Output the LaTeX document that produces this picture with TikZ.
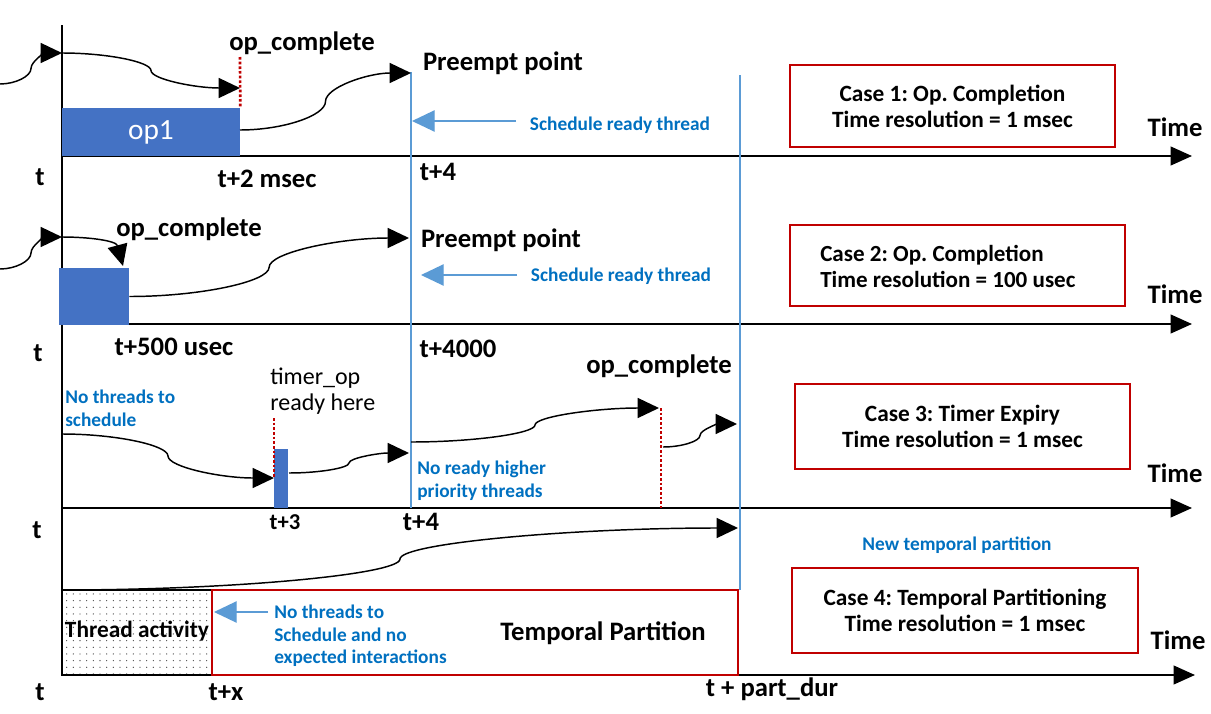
\documentclass[tikz,border=0pt]{standalone}
\usepackage{fontspec}
\setmainfont{Carlito}
\frenchspacing
\usetikzlibrary{arrows.meta,calc,patterns.meta}
\definecolor{opblue}{HTML}{4472C4}
\definecolor{lineblue}{HTML}{5B9BD5}
\definecolor{noteblue}{HTML}{0070C0}
\definecolor{darkred}{HTML}{C00000}
\tikzset{
  axis/.style={line width=1.5pt,-{Triangle[length=16pt,width=14pt]}},
  flow/.style={line width=1.1pt,-{Triangle[length=16pt,width=15pt]}},
  wiggle/.style={to path={.. controls ($(\tikztostart)!0.25!(\tikztostart -| \tikztotarget)$) and ($(\tikztostart)!0.5!(\tikztostart -| \tikztotarget) + 0.25*(\tikztostart |- \tikztotarget) - 0.25*(\tikztostart)$) .. ($(\tikztostart)!0.5!(\tikztotarget)$) .. controls ($(\tikztostart)!0.5!(\tikztostart -| \tikztotarget) + 0.75*(\tikztostart |- \tikztotarget) - 0.75*(\tikztostart)$) and ($(\tikztotarget)!0.25!(\tikztotarget -| \tikztostart)$) .. (\tikztotarget) \tikztonodes}},
  preempt/.style={lineblue,line width=1.1pt},
  schedarrow/.style={lineblue,line width=1pt,-{Triangle[length=17pt,width=16pt]}},
  opline/.style={darkred,line width=2pt,dash pattern=on 2pt off 1.5pt},
  opbox/.style={fill=opblue,inner sep=0pt},
  lbl/.style={font=\fontsize{20}{24}\selectfont\bfseries},
  note/.style={font=\fontsize{14.5}{17}\selectfont\bfseries,text=noteblue,align=left,inner sep=0pt},
  casebox/.style={draw=darkred,line width=1.8pt,font=\fontsize{17.5}{19.5}\selectfont\bfseries,align=center}
}
\begin{document}
\begin{tikzpicture}[x=0.75pt,y=-0.75pt]
\useasboundingbox (0,0) rectangle (1211,714);
% time axes
\coordinate (top) at (62,25);
\coordinate (bottom) at (62,676);
\coordinate (o1) at (62,156);
\coordinate (e1) at (1192,156);
\coordinate (o2) at (62,324);
\coordinate (e2) at (1192,324);
\coordinate (o3) at (62,508);
\coordinate (e3) at (1192,508);
\coordinate (o4) at (62,675);
\coordinate (e4) at (1195,675);
\draw[line width=1.5pt] (top) -- (bottom);
\draw[axis] (o1) -- (e1);
\draw[axis] (o2) -- (e2);
\draw[axis] (o3) -- (e3);
\draw[axis] (o4) -- (e4);
\node[lbl] (time1) at (1175,127) {Time};
\node[lbl] (time2) at (1175,294) {Time};
\node[lbl] (time3) at (1175,473) {Time};
\node[lbl] (time4) at (1178,640) {Time};
% preempt lines
\coordinate (pre1top) at (411,72);
\coordinate (pre1bot) at (411,508);
\coordinate (pre2top) at (740,75);
\coordinate (pre2bot) at (740,590);
\draw[preempt] (pre1top) -- (pre1bot);
\draw[preempt] (pre2top) -- (pre2bot);

% case 1
\node[opbox,minimum width=133.5pt,minimum height=36pt,text=white,font=\fontsize{22}{26}\selectfont] (op1) at (151,132) {op1};
\coordinate (c1in) at (0,84);
\coordinate (c1t) at (62,53);
\coordinate (c1done) at (240,88);
\coordinate (c1mark) at (240,57);
\coordinate (c1resume) at (240,130);
\coordinate (c1pre) at (411,73);
\draw[flow] (c1in) to[wiggle] (c1t);
\draw[flow] (c1t) to[wiggle] (c1done);
\draw[flow] (c1resume) to[wiggle] (c1pre);
\draw[opline] (c1mark) -- (op1.north east);
\node[lbl] (done1) at (302,43) {op\_complete};
\node[lbl] (pp1) at (503,63) {Preempt point};
\coordinate (s1tail) at (516,121);
\coordinate (s1head) at (412,121);
\draw[schedarrow] (s1tail) -- (s1head);
\node[note] (sched1) at (620,125) {Schedule ready thread};
\node[lbl] (t1) at (40,177) {t};
\node[lbl] (t1b) at (267,179) {t+2 msec};
\node[lbl] (t1c) at (438,172) {t+4};
\node[casebox,minimum width=243.75pt,minimum height=61.5pt] (case1) at (952.5,106) {Case 1: Op. Completion\\Time resolution = 1 msec};

% case 2
\node[opbox,minimum width=52.5pt,minimum height=42.75pt] (op2) at (94,296.5) {};
\coordinate (c2in) at (0,269);
\coordinate (c2t) at (62,237);
\coordinate (c2done) at (123,266);
\coordinate (c2pre) at (409,238);
\draw[flow] (c2in) to[wiggle] (c2t);
\draw[flow] (c2t) to[out=0,in=105] (c2done);
\draw[flow] (op2.east) to[wiggle] (c2pre);
\node[lbl] (done2) at (189,229) {op\_complete};
\node[lbl] (pp2) at (501,240) {Preempt point};
\coordinate (s2tail) at (517,275);
\coordinate (s2head) at (421,275);
\draw[schedarrow] (s2tail) -- (s2head);
\node[note] (sched2) at (621,276) {Schedule ready thread};
\node[lbl] (t2) at (38,353) {t};
\node[lbl] (t2b) at (174,347) {t+500 usec};
\node[lbl] (t2c) at (458,349) {t+4000};
\node[casebox,minimum width=251.25pt,minimum height=60.75pt] (case2) at (957.5,265.5) {};
\node[anchor=west,inner sep=0pt,align=left,font=\fontsize{17.3}{19.5}\selectfont\bfseries] (case2txt) at (820,266.5) {Case 2: Op. Completion\\Time resolution = 100 usec};

% case 3
\node[opbox,minimum width=10.5pt,minimum height=44.25pt] (op3) at (281,478.5) {};
\coordinate (c3t) at (62,434);
\coordinate (c3timer) at (274,478);
\coordinate (c3mark) at (274,418);
\coordinate (c3resume) at (289,473);
\coordinate (c3pre) at (409,453);
\coordinate (c3run) at (411,442);
\coordinate (c3done) at (659,408);
\coordinate (c3mark2) at (661,408);
\coordinate (c3mark2b) at (661,508);
\coordinate (c3after) at (663,447);
\coordinate (c3end) at (737,424);
\draw[opline] (c3mark) -- (c3timer);
\draw[opline] (c3mark2) -- (c3mark2b);
\draw[flow] (c3t) to[wiggle] (c3timer);
\draw[flow] (c3resume) to[wiggle] (c3pre);
\draw[flow] (c3run) to[wiggle] (c3done);
\draw[flow] (c3after) to[wiggle] (c3end);
\node[note,anchor=west] (idle3) at (65,408) {No threads to\\schedule};
\node[anchor=west,inner sep=0pt,align=left,font=\fontsize{18}{19.5}\selectfont] (timer3) at (270,391) {timer\_op\\ready here};
\node[lbl] (done3) at (659,366) {op\_complete};
\node[note,anchor=west] (nohigh3) at (417,480.5) {No ready higher\\priority threads};
\node[lbl] (t3) at (37,530) {t};
\node[lbl,font=\fontsize{17}{20}\selectfont\bfseries] (t3b) at (285,522) {t+3};
\node[lbl] (t3c) at (421,522) {t+4};
\node[casebox,minimum width=251.25pt,minimum height=63.75pt] (case3) at (962.5,426.5) {Case 3: Timer Expiry\\Time resolution = 1 msec};

% case 4
\node[draw,line width=1.2pt,pattern={Dots[distance=5pt,radius=0.5pt]},pattern color=black!70,minimum width=112.5pt,minimum height=63.75pt,inner sep=0pt] (activity) at (137,632.5) {};
\node[font=\fontsize{17.5}{20}\selectfont\bfseries] (activitytxt) at (137,631) {Thread activity};
\node[draw=darkred,line width=1.1pt,minimum width=394.5pt,minimum height=63.75pt,inner sep=0pt] (partition) at (475,632.5) {};
\node[lbl] (partitiontxt) at (603,633) {Temporal Partition};
\coordinate (c4t) at (62,590);
\coordinate (c4end) at (738,528);
\draw[flow] (c4t) to[wiggle] (c4end);
\coordinate (s4tail) at (268,612);
\coordinate (s4head) at (214,612);
\draw[schedarrow] (s4tail) -- (s4head);
\node[note,anchor=west] (idle4) at (274,636) {No threads to\\Schedule and no\\expected interactions};
\node[note] (newpart) at (957,545) {New temporal partition};
\node[lbl] (t4) at (40,692) {t};
\node[lbl] (t4b) at (226,692) {t+x};
\node[lbl] (t4c) at (772,689) {t + part\_dur};
\node[casebox,minimum width=259.5pt,minimum height=63.75pt] (case4) at (965,610.5) {Case 4: Temporal Partitioning\\Time resolution = 1 msec};
\end{tikzpicture}
\end{document}
